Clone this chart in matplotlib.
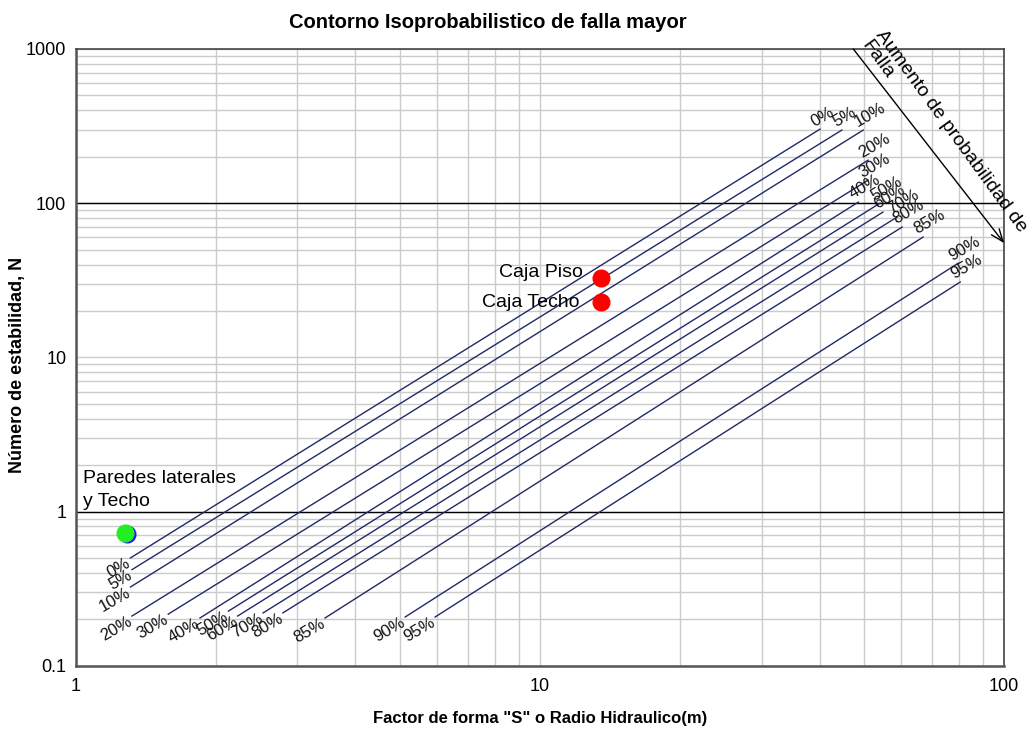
import matplotlib
matplotlib.use("Agg")
import matplotlib.pyplot as plt
from matplotlib.ticker import FixedLocator, FixedFormatter, NullFormatter, LogLocator

plt.rcParams["font.family"] = ["Liberation Sans", "DejaVu Sans"]

# iso-probability contours (S, N at both ends)
pct_labels = ["0%", "5%", "10%", "20%", "30%", "40%", "50%",
              "60%", "70%", "80%", "85%", "90%", "95%"]
start_S = [1.31, 1.32, 1.31, 1.32, 1.58, 1.85, 2.13, 2.23, 2.53, 2.79, 3.44, 5.12, 5.94]
start_N = [0.50, 0.42, 0.324, 0.210, 0.216, 0.204, 0.226, 0.210, 0.220, 0.220, 0.204, 0.207, 0.207]
end_S = [40.1, 44.7, 49.7, 50.9, 50.9, 48.5, 54.0, 54.8, 58.8, 60.3, 66.9, 79.6, 80.4]
end_N = [302, 298, 298, 190, 141, 101.6, 100, 87.5, 81.3, 70, 60.3, 40.8, 30.8]

# excavation points
caja_names = ["Caja Piso", "Caja Techo"]
caja_S = [13.5, 13.5]
caja_N = [32.7, 22.8]
paredes_S = 1.275
paredes_N = 0.729

arrow_from = (47.3, 1000)
arrow_to = (100, 55)

line_color = "#1f2a66"
grid_color = "#cbcbcb"

fig = plt.figure(figsize=(10.33, 7.33), dpi=100)
ax = fig.add_axes([0.0736, 0.0918, 0.8985, 0.8414])
ax.set_xscale("log")
ax.set_yscale("log")
ax.set_xlim(1, 100)
ax.set_ylim(0.1, 1000)

ax.grid(True, which="both", color=grid_color, lw=1, zorder=0)
ax.set_axisbelow(True)
ax.axhline(1, color="black", lw=1, zorder=1)
ax.axhline(100, color="black", lw=1, zorder=1)

for lab, s0, n0, s1, n1 in zip(pct_labels, start_S, start_N, end_S, end_N):
    ax.plot([s0, s1], [n0, n1], color=line_color, lw=1, zorder=2)
    ax.annotate(lab, (s0, n0), xytext=(-1, -3), textcoords="offset points",
                rotation=30, rotation_mode="anchor", ha="right", va="center",
                fontsize=12, color="#111111")
    ax.annotate(lab, (s1, n1), xytext=(-3, 0), textcoords="offset points",
                rotation=30, rotation_mode="anchor", ha="left", va="bottom",
                fontsize=12, color="#111111")

ax.plot([paredes_S * 1.012], [paredes_N * 0.985], "o", color="#1a1aff", ms=12, zorder=4)
ax.plot([paredes_S], [paredes_N], "o", color="#22ee22", ms=12, zorder=5)
ax.plot(caja_S, caja_N, "o", color="#ff0000", ms=12, zorder=5)

ax.annotate(caja_names[0], (caja_S[0], caja_N[0]), xytext=(-13, 4), textcoords="offset points",
            ha="right", va="center", fontsize=14)
ax.annotate(caja_names[1], (caja_S[1], caja_N[1]), xytext=(-15, 0), textcoords="offset points",
            ha="right", va="center", fontsize=14)
ax.text(1.035, 1.38, "Paredes laterales\ny Techo", ha="left", va="center",
        fontsize=14, linespacing=1.45)

ax.annotate("", xy=arrow_to, xytext=arrow_from, annotation_clip=False,
            arrowprops=dict(arrowstyle="->,head_length=0.9,head_width=0.35",
                            color="black", lw=1, shrinkA=0, shrinkB=0))
fig.text(886 / 1033, 1 - 27 / 733, "Aumento de probabilidad de\nFalla", rotation=-54,
         rotation_mode="anchor", ha="left", va="top", fontsize=14, linespacing=1.0)

# ticks
ax.yaxis.set_major_locator(FixedLocator([0.1, 1, 10, 100, 1000]))
ax.yaxis.set_major_formatter(FixedFormatter(["0.1", "1", "10", "100", "1000"]))
ax.xaxis.set_major_locator(FixedLocator([1, 10, 100]))
ax.xaxis.set_major_formatter(FixedFormatter(["1", "10", "100"]))
ax.xaxis.set_minor_locator(LogLocator(base=10, subs=range(2, 10)))
ax.yaxis.set_minor_locator(LogLocator(base=10, subs=range(2, 10)))
ax.xaxis.set_minor_formatter(NullFormatter())
ax.yaxis.set_minor_formatter(NullFormatter())
ax.tick_params(which="both", length=0)
ax.tick_params(axis="y", labelsize=13, pad=7)
ax.tick_params(axis="x", labelsize=13, pad=9)

for side in ["left", "bottom"]:
    ax.spines[side].set_color("#555555")
    ax.spines[side].set_linewidth(1.8)
for side in ["top", "right"]:
    ax.spines[side].set_color("#444444")
    ax.spines[side].set_linewidth(1.2)

fig.text(488 / 1033, 1 - 22 / 733, "Contorno Isoprobabilistico de falla mayor",
         ha="center", va="center", fontsize=14.5, fontweight="bold")
fig.text(540 / 1033, 1 - 719 / 733, 'Factor de forma "S" o Radio Hidraulico(m)',
         ha="center", va="center", fontsize=12, fontweight="bold")
fig.text(18 / 1033, 1 - 365 / 733, "Número de estabilidad, N", rotation=90,
         ha="center", va="center", fontsize=13, fontweight="bold")

fig.savefig("out.png", dpi=100)
